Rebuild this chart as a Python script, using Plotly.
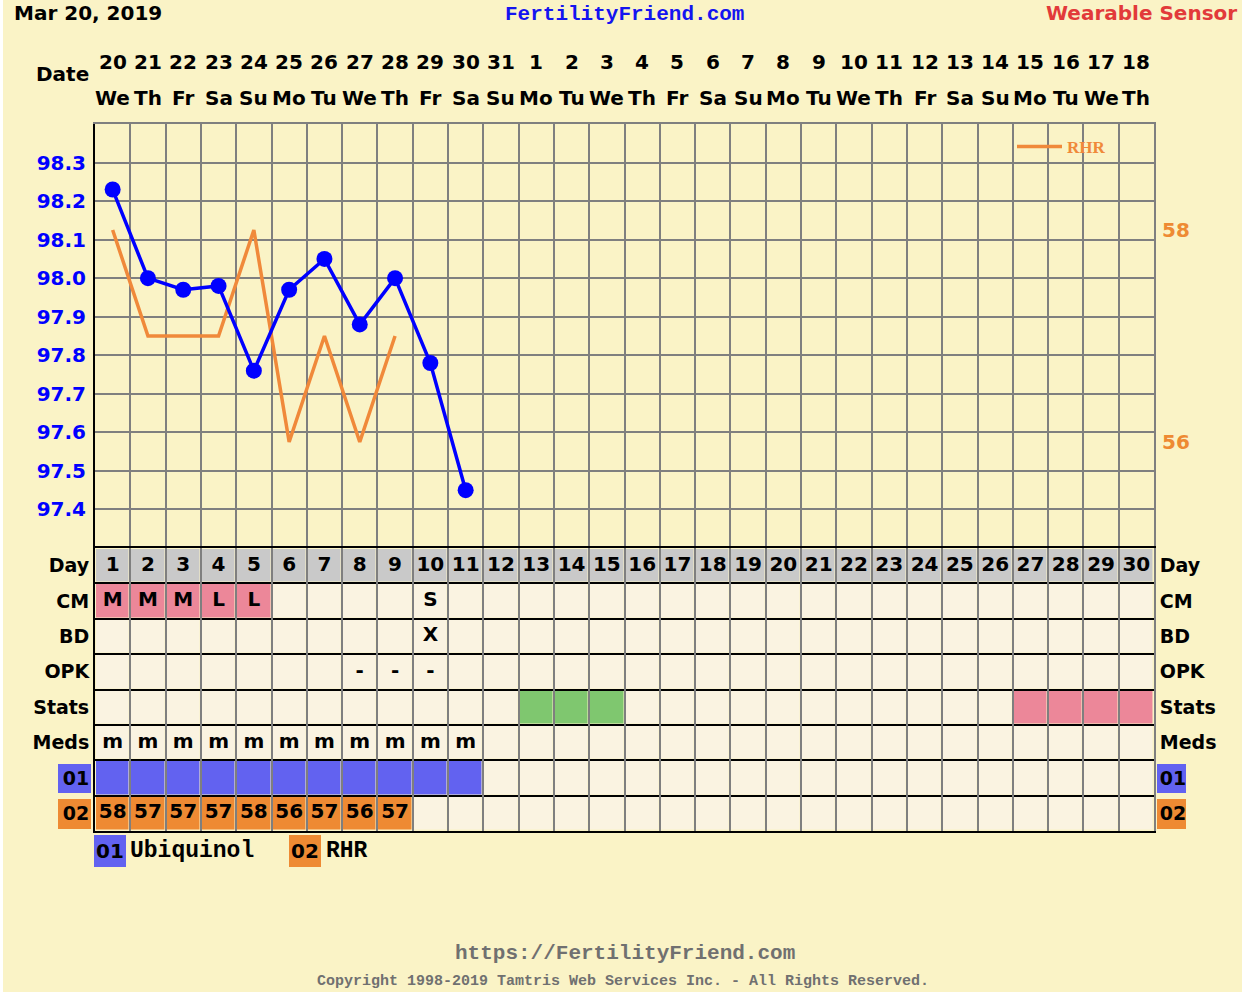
import plotly.graph_objects as go

# Chart data
dates = ["20", "21", "22", "23", "24", "25", "26", "27", "28", "29", "30", "31",
         "1", "2", "3", "4", "5", "6", "7", "8", "9", "10", "11", "12", "13", "14",
         "15", "16", "17", "18"]
weekdays = ["We", "Th", "Fr", "Sa", "Su", "Mo", "Tu", "We", "Th", "Fr", "Sa", "Su",
            "Mo", "Tu", "We", "Th", "Fr", "Sa", "Su", "Mo", "Tu", "We", "Th", "Fr",
            "Sa", "Su", "Mo", "Tu", "We", "Th"]
days = list(range(1, 31))

temps = [98.23, 98.00, 97.97, 97.98, 97.76, 97.97, 98.05, 97.88, 98.00, 97.78, 97.45]
rhr = [58, 57, 57, 57, 58, 56, 57, 56, 57]
temp_ticks = [97.4, 97.5, 97.6, 97.7, 97.8, 97.9, 98.0, 98.1, 98.2, 98.3]
rhr_ticks = [56, 58]

cm = ["M", "M", "M", "L", "L", "", "", "", "", "S"]
bd = ["", "", "", "", "", "", "", "", "", "X"]
opk = ["", "", "", "", "", "", "", "-", "-", "-"]
meds = ["m", "m", "m", "m", "m", "m", "m", "m", "m", "m", "m"]
ubiquinol = [1, 1, 1, 1, 1, 1, 1, 1, 1, 1, 1]
stats_green = [13, 14, 15]
stats_pink = [27, 28, 29, 30]
row_labels = ["Day", "CM", "BD", "OPK", "Stats", "Meds", "01", "02"]

# Colours
BG = "#FAF3C6"
CELL = "#FAF3E1"
DAYROW = "#C9C9C9"
PINK = "#EC8799"
GREEN = "#7FC76F"
MED_BLUE = "#6262F0"
MED_ORANGE = "#EE8A33"
GRID = "#7F7F7F"
TEMP_BLUE = "#0000FF"
RHR_ORANGE = "#F0893A"
FONT = "DejaVu Sans"
MONO = "Liberation Mono"
FS = 20

# page geometry (pixels)
W, H = 1242, 1002
L, R, T, B = 95, 88, 124, 171
PW, PH = W - L - R, H - T - B
split = 283 / PH


def px(x):
    return (x - L) / PW


def py(y):
    return (H - B - y) / PH


def bold(size, color="black", family=FONT):
    return dict(family=family, size=size, color=color, weight="bold")


# table cells: 0 cream, 1 grey, 2 pink, 3 green, 4 blue, 5 orange
palette = [CELL, DAYROW, PINK, GREEN, MED_BLUE, MED_ORANGE]
z = [[0] * 30 for _ in row_labels]
z[0] = [1] * 30
for i, v in enumerate(cm[:5]):
    z[1][i] = 2
for d in stats_green:
    z[4][d - 1] = 3
for d in stats_pink:
    z[4][d - 1] = 2
for i, v in enumerate(ubiquinol):
    z[6][i] = 4 if v else 0
for i in range(len(rhr)):
    z[7][i] = 5
scale = []
for i, c in enumerate(palette):
    scale += [[i / len(palette), c], [(i + 1) / len(palette), c]]

# table texts
tx, ty, tt = [], [], []
rows_text = [[str(d) for d in days], cm, bd, opk, [], meds, [], [str(v) for v in rhr]]
for r, vals in enumerate(rows_text):
    for i, v in enumerate(vals):
        if v:
            tx.append(days[i])
            ty.append(r)
            tt.append(v)

fig = go.Figure()
fig.add_trace(go.Scatter(
    x=days[:len(rhr)], y=rhr, mode="lines", name="RHR",
    line=dict(color=RHR_ORANGE, width=3.5), xaxis="x", yaxis="y",
    showlegend=True, hoverinfo="skip"))
fig.add_trace(go.Scatter(
    x=days[:len(temps)], y=temps, mode="lines+markers", name="Temp",
    line=dict(color=TEMP_BLUE, width=3.5), marker=dict(size=16, color=TEMP_BLUE),
    xaxis="x", yaxis="y3", showlegend=False))
fig.add_trace(go.Heatmap(
    x=days, y=list(range(len(row_labels))), z=z, colorscale=scale,
    zmin=-0.5, zmax=len(palette) - 0.5, showscale=False, xgap=2.5, ygap=2.5,
    xaxis="x2", yaxis="y2", hoverinfo="skip"))
fig.add_trace(go.Scatter(
    x=tx, y=ty, text=tt, mode="text", textposition="middle center",
    textfont=bold(FS), xaxis="x2", yaxis="y4", showlegend=False, hoverinfo="skip"))

grid_x = [d + 0.5 for d in days[:-1]]
row_bounds = [r + 0.5 for r in range(len(row_labels) - 1)]

fig.update_layout(
    width=W, height=H,
    margin=dict(l=L, r=R, t=T, b=B),
    paper_bgcolor="white",
    plot_bgcolor=BG,
    hovermode=False,
    xaxis=dict(domain=[0, 1], range=[0.5, 30.5], anchor="y", side="top",
               tickvals=grid_x, showticklabels=False, ticks="",
               showgrid=True, gridcolor=GRID, gridwidth=2,
               showline=True, linecolor=GRID, linewidth=2, zeroline=False),
    yaxis=dict(domain=[split, 1], range=[55, 59], anchor="x", side="right",
               tickvals=rhr_ticks, tickfont=bold(20, MED_ORANGE), ticks="",
               showgrid=False, zeroline=False, ticklabelstandoff=2,
               showline=True, linecolor=GRID, linewidth=2),
    yaxis3=dict(overlaying="y", side="left", anchor="x", range=[97.3, 98.4],
                tickvals=temp_ticks, ticktext=[f"{v:.1f}" for v in temp_ticks],
                tickfont=bold(FS, TEMP_BLUE), ticks="", ticklabelstandoff=3,
                showgrid=True, gridcolor=GRID, gridwidth=2, zeroline=False,
                showline=True, linecolor="black", linewidth=2),
    xaxis2=dict(domain=[0, 1], range=[0.5, 30.5], anchor="y2",
                tickvals=grid_x, showticklabels=False, ticks="",
                showgrid=True, gridcolor=GRID, gridwidth=2, zeroline=False,
                showline=True, mirror=True, linecolor="black", linewidth=2),
    yaxis2=dict(domain=[0, split], range=[len(row_labels) - 0.5, -0.5], anchor="x2",
                tickvals=list(range(len(row_labels))), ticktext=row_labels,
                tickfont=bold(19), ticks="", ticklabelstandoff=0, showgrid=False,
                minor=dict(tickvals=row_bounds, showgrid=True, gridcolor="black",
                           gridwidth=2, ticks=""),
                zeroline=False, showline=True, linecolor="black", linewidth=2),
    yaxis4=dict(overlaying="y2", side="right", anchor="x2",
                range=[len(row_labels) - 0.5, -0.5],
                tickvals=list(range(len(row_labels))), ticktext=row_labels,
                tickfont=bold(19), ticks="", ticklabelstandoff=0, showgrid=False,
                zeroline=False, showline=True, linecolor=GRID, linewidth=2),
    legend=dict(x=px(1012), y=py(129), xanchor="left", yanchor="top",
                bgcolor="rgba(0,0,0,0)",
                font=dict(family="Liberation Serif", size=17, color=RHR_ORANGE,
                          weight="bold"),
                itemwidth=45, tracegroupgap=0),
)

shapes = [
    dict(type="rect", xref="paper", yref="paper", x0=px(3), x1=px(1250),
         y0=py(992), y1=py(-10), fillcolor=BG, line_width=0, layer="below"),
    dict(type="rect", xref="paper", yref="paper", x0=px(1012), x1=px(1137),
         y0=py(168), y1=py(127), fillcolor=BG, line_width=0, layer="between"),
    dict(type="rect", xref="paper", yref="paper", x0=px(58), x1=px(91),
         y0=py(793), y1=py(764), fillcolor=MED_BLUE, line_width=0, layer="below"),
    dict(type="rect", xref="paper", yref="paper", x0=px(58), x1=px(91),
         y0=py(829), y1=py(799), fillcolor=MED_ORANGE, line_width=0, layer="below"),
    dict(type="rect", xref="paper", yref="paper", x0=px(1157), x1=px(1186),
         y0=py(793), y1=py(764), fillcolor=MED_BLUE, line_width=0, layer="below"),
    dict(type="rect", xref="paper", yref="paper", x0=px(1157), x1=px(1186),
         y0=py(829), y1=py(799), fillcolor=MED_ORANGE, line_width=0, layer="below"),
    dict(type="rect", xref="paper", yref="paper", x0=px(94), x1=px(126),
         y0=py(867), y1=py(835), fillcolor=MED_BLUE, line_width=0, layer="below"),
    dict(type="rect", xref="paper", yref="paper", x0=px(289), x1=px(321),
         y0=py(867), y1=py(835), fillcolor=MED_ORANGE, line_width=0, layer="below"),
]
fig.update_layout(shapes=shapes)

ann = []
for d, dt, wd in zip(days, dates, weekdays):
    ann.append(dict(x=d, y=py(62), xref="x", yref="paper", text=dt, showarrow=False,
                    font=bold(FS), xanchor="center", yanchor="middle"))
    ann.append(dict(x=d, y=py(98), xref="x", yref="paper", text=wd, showarrow=False,
                    font=bold(FS), xanchor="center", yanchor="middle"))


def label(x, y, text, font, xanchor="center"):
    ann.append(dict(x=px(x), y=py(y), xref="paper", yref="paper", text=text,
                    showarrow=False, font=font, xanchor=xanchor, yanchor="middle"))


label(91, 74, "Date", bold(FS), "right")
label(12, 13, "Mar 20, 2019", bold(FS), "left")
label(624, 15, "FertilityFriend.com", bold(21, "#1414F0", MONO))
label(1239, 13, "Wearable Sensor", bold(FS, "#E23A3A"), "right")
label(110, 851, "01", bold(FS))
label(128, 851, "Ubiquinol", bold(23, "black", MONO), "left")
label(305, 851, "02", bold(FS))
label(324, 851, "RHR", bold(23, "black", MONO), "left")
label(625, 953, "https://FertilityFriend.com", bold(21, "#707070", MONO))
label(623, 981, "Copyright 1998-2019 Tamtris Web Services Inc. - All Rights Reserved.",
      bold(15, "#707070", MONO))
fig.update_layout(annotations=ann)

fig.write_html("out.html", config={"displayModeBar": False},
               post_script="document.body.style.margin='0';document.body.style.overflow='hidden';")
